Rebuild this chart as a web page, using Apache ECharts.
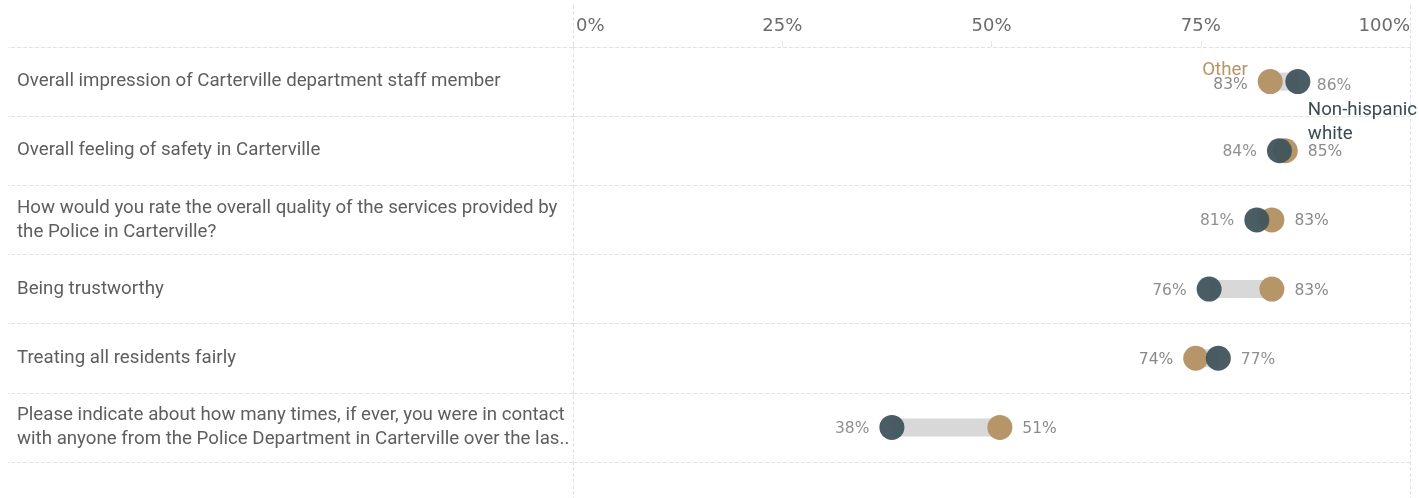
<!DOCTYPE html>
<html>
<head>
<meta charset="utf-8">
<script src="https://cdn.jsdelivr.net/npm/echarts@6/dist/echarts.min.js"></script>
<style>
  html, body { margin: 0; padding: 0; background: #fff; }
  #chart { width: 1419px; height: 498px; }
</style>
</head>
<body>
<div id="chart"></div>
<script>
// categories (top to bottom)
const categories = [
  'Overall impression of Carterville department staff member',
  'Overall feeling of safety in Carterville',
  'How would you rate the overall quality of the services provided by the Police in Carterville?',
  'Being trustworthy',
  'Treating all residents fairly',
  'Please indicate about how many times, if ever, you were in contact with anyone from the Police Department in Carterville over the last 12 months?'
];
// percentages
const nonHispanicWhite = [86.6, 84.4, 81.7, 76.0, 77.1, 38.1];
const other = [83.3, 85.1, 83.5, 83.5, 74.4, 51.0];
const xTicks = [0, 25, 50, 75, 100];

const colNHW = '#41545c';
const colOther = '#b69568';
const gridLine = { color: '#e2e2e2', type: 'dashed', width: 1 };
const catFont = '18.7px Roboto';
const catWidth = 555;

// connector bar: invisible base up to the smaller value, grey span between the two
const baseVals = nonHispanicWhite.map((v, i) => Math.min(v, other[i]));
const spanVals = nonHispanicWhite.map((v, i) => Math.abs(v - other[i]));

const pct = v => Math.floor(v) + '%';

// wrap a category name into at most two lines, cutting the rest with '..'
const ctx = document.createElement('canvas').getContext('2d');
ctx.font = catFont;
const measure = s => ctx.measureText(s).width;
function wrapLabel(text) {
  const words = text.split(' ');
  let lines = [], cur = '';
  words.forEach(w => {
    const test = cur ? cur + ' ' + w : w;
    if (cur && measure(test) > catWidth) { lines.push(cur); cur = w; }
    else cur = test;
  });
  lines.push(cur);
  if (lines.length > 2) {
    let rest = lines.slice(1).join(' ');
    while (rest.length && measure(rest + '..') > catWidth) rest = rest.slice(0, -1);
    lines = [lines[0], rest + '..'];
  }
  return lines.join('\n');
}

const nhwData = nonHispanicWhite.map((v, i) => {
  const left = v < other[i];
  const d = { value: [v, i], label: { position: left ? 'left' : 'right' } };
  if (i === 0) {
    d.label = {
      position: [22.5, 3.5], align: 'left', verticalAlign: 'top', offset: [0, 0],
      formatter: () => '{v|' + pct(v) + '}\n{n|Non-hispanic}\n{n|white}'
    };
  }
  return d;
});
const otherData = other.map((v, i) => {
  const left = v < nonHispanicWhite[i];
  const d = { value: [v, i], label: { position: left ? 'left' : 'right' } };
  if (i === 0) {
    d.label = {
      position: 'left', align: 'right', offset: [0, -4.5],
      formatter: () => '{o|Other}\n{v|' + pct(v) + '}'
    };
  }
  return d;
});

const valueFont = { fontFamily: 'DejaVu Sans', fontSize: 15.5, color: '#8a8a8a' };
const tickFont = { fontFamily: 'DejaVu Sans', fontSize: 18, color: '#6b6b6b' };

const chart = echarts.init(document.getElementById('chart'));
chart.setOption({
  animation: false,
  grid: [
    { left: 573, right: 9, top: 47, bottom: 36 },
    { left: 573, right: 9, top: 5, bottom: 0 }
  ],
  xAxis: [
    {
      type: 'value', position: 'top', min: 0, max: 100, interval: 25,
      axisLine: { show: false },
      axisTick: { show: true, length: 6, lineStyle: { color: '#e6e6e6' } },
      splitLine: { show: false },
      axisLabel: Object.assign({
        margin: 12,
        alignMinLabel: 'left', alignMaxLabel: 'right',
        formatter: v => !xTicks.includes(v) ? '' : (v === 0 ? '{z|0%}' : v + '%'),
        rich: { z: Object.assign({ padding: [0, 0, 0, 3] }, tickFont) }
      }, tickFont)
    },
    {
      gridIndex: 1, type: 'value', min: 0, max: 100, interval: 100,
      axisLine: { show: false }, axisTick: { show: false }, axisLabel: { show: false },
      splitLine: { show: true, lineStyle: gridLine }
    }
  ],
  yAxis: [
    {
      type: 'category', data: categories, inverse: true,
      axisLine: { show: false },
      axisTick: { show: true, length: 565, lineStyle: gridLine },
      splitLine: { show: true, lineStyle: gridLine },
      axisLabel: {
        align: 'left', margin: 556,
        fontFamily: 'Roboto', fontSize: 18.7, color: '#5e5e5e',
        lineHeight: 24, padding: [4, 0, 0, 0],
        formatter: wrapLabel
      }
    },
    { gridIndex: 1, type: 'value', show: false }
  ],
  series: [
    {
      type: 'bar', stack: 'gap', data: baseVals, barWidth: 18,
      itemStyle: { color: 'transparent' }, silent: true
    },
    {
      type: 'bar', stack: 'gap', data: spanVals, barWidth: 18,
      itemStyle: { color: '#d8d8d8' }, silent: true
    },
    {
      name: 'Other', type: 'scatter', symbolSize: 25, data: otherData,
      itemStyle: { color: colOther, opacity: 1 },
      label: Object.assign({
        show: true, distance: 10, offset: [0, 1.5],
        formatter: p => pct(p.value[0]),
        rich: {
          v: Object.assign({ lineHeight: 14 }, valueFont),
          o: { fontFamily: 'Roboto', fontSize: 18.7, color: colOther, lineHeight: 15 }
        }
      }, valueFont)
    },
    {
      name: 'Non-hispanic white', type: 'scatter', symbolSize: 25, data: nhwData,
      itemStyle: { color: colNHW, opacity: 0.95 },
      label: Object.assign({
        show: true, distance: 10, offset: [0, 1.5],
        formatter: p => pct(p.value[0]),
        rich: {
          v: Object.assign({ lineHeight: 26, padding: [0, 0, 0, 9] }, valueFont),
          n: { fontFamily: 'Roboto', fontSize: 18.7, color: '#2f4048', lineHeight: 24 }
        }
      }, valueFont)
    }
  ]
});
</script>
</body>
</html>
